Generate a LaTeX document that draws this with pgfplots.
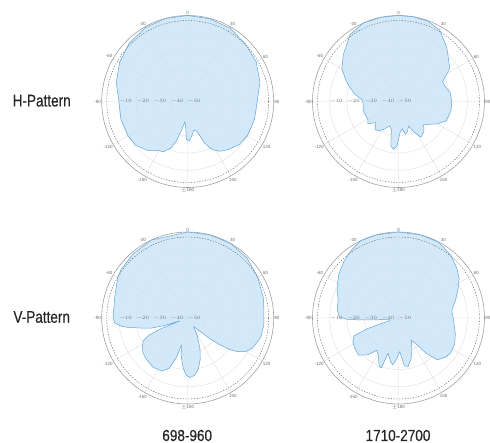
\documentclass[border=0pt]{standalone}
\usepackage{fontspec}
\setmainfont{Liberation Sans}
\newfontfamily\rowfont[FakeStretch=0.8,FakeBold=0.4]{Liberation Sans}
\newfontfamily\colfont[FakeStretch=0.85,FakeBold=0.4]{Liberation Sans}
\usepackage{pgfplots}
\usepackage{pgfplotstable}
\usepgfplotslibrary{polar}
\pgfplotsset{compat=1.18}
\definecolor{patfill}{RGB}{200,228,248}
\definecolor{patline}{RGB}{95,165,220}
\definecolor{labgray}{RGB}{110,110,110}

% compass angle (deg, clockwise from north), gain (dB)
\pgfplotstableread{
ang db
0 0
15 -0.2
30 -0.8
45 -2.6
60 -4
75 -6.5
90 -9.6
105 -9.8
120 -10
130 -11
140 -13.5
147 -15.5
153 -18.5
158 -24
163 -32
168 -33
173 -30
178 -27
182 -28
185 -36
188 -38
192 -33
196 -26
200 -21
206 -17.5
212 -16.5
220 -13
230 -10.5
240 -10
255 -9.8
270 -10
285 -7
300 -4.3
315 -2
330 -0.5
345 0
360 0
}\hlow
\pgfplotstableread{
ang db
0 0
10 0
20 -0.3
30 -2
42 -8
50 -12
57 -14.5
62 -19
66 -22
72 -21.5
80 -19.5
90 -19
100 -19
112 -20
120 -24
126 -27.5
133 -30
140 -27
148 -25.5
153 -30
158 -34.5
163 -32
168 -30.5
172 -34
177 -32
182 -24
186 -22
190 -24
194 -33
200 -35
207 -32
214 -29.5
220 -28.7
227 -32
234 -28
240 -29.4
250 -29
257 -28.9
265 -29.4
272 -29
280 -24
287 -20
292 -17
300 -12
310 -8
316 -6
324 -2
336 0
348 0
360 0
}\hhigh
\pgfplotstableread{
ang db
0 0
15 0
30 0
45 -1
60 -2.9
75 -4.5
83 -5.4
95 -5.5
105 -6.1
115 -8.5
120 -11
124 -15
127 -19.5
130 -26
133 -32.6
138 -40
145 -44
152 -38
158 -31
163 -25
168 -20
173 -16.5
178 -15.3
182 -17
186 -22
190 -28
193 -34
196 -26
200 -19
206 -15.7
215 -15
225 -16
232 -17
238 -19
243 -21
246 -25
248 -33
250 -45
252 -36
254.5 -28
258 -22
261 -15
263 -11
266 -7.5
270 -6.6
285 -6
300 -3
306 -2.1
320 -1
335 0
360 0
}\vlow
\pgfplotstableread{
ang db
0 0
15 0
28 -0.1
40 -2.5
49.5 -5.4
57 -8
63 -11
72 -15
82 -18.7
92 -18
105.5 -15.7
115 -14
124 -13.5
130 -14.5
137 -16.8
142 -24
146 -32
150 -35
157 -30
163 -25
169 -21.3
173 -22
178 -30.4
183 -26
187 -22.6
190 -24
196.5 -28.6
199 -19.2
202 -20
208 -25
214 -27.4
220 -22
227 -18.3
235 -19
242 -20
248 -22
251 -30
254 -45
262 -45
265 -38
267 -28
268.5 -20
271 -15.5
278 -14
286 -13.5
296 -10.3
306 -7
316 -4.3
325 -2
334 0
345 0
360 0
}\vhigh

\tikzset{rlab/.style={font=\fontsize{4.5}{5}\selectfont, text=labgray, anchor=west, inner sep=0.5pt}}
\pgfplotsset{
  pat/.style={
    anchor=center, scale only axis, width=172bp, height=172bp,
    ymin=0, ymax=50, xmin=0, xmax=360,
    xtick={0,30,...,330},
    xticklabels={90,60,30,0,-30,-60,-90,-120,-150,$\pm$180,150,120},
    ytick={10,20,30,40}, yticklabels={},
    grid=major,
    major grid style={draw=gray!28, line width=0.35pt},
    axis line style={draw=gray!75, line width=0.6pt},
    y axis line style={draw=none},
    tick style={draw=none},
    xticklabel style={font=\fontsize{4.5}{5}\selectfont, text=labgray, inner sep=0.6pt},
    clip=false,
  },
  patplot/.style={fill=patfill, fill opacity=0.8, draw=patline, line width=0.5pt, line join=round},
}
\newcommand{\ringdecor}{%
  \draw[gray!70!black, line width=0.4pt, dash pattern=on 1.3pt off 1.5pt] (axis cs:0,0) circle[radius=81bp];
  \node[rlab] at (axis cs:180,40) {$-10$};
  \node[rlab] at (axis cs:180,30) {$-20$};
  \node[rlab] at (axis cs:180,20) {$-30$};
  \node[rlab] at (axis cs:180,10) {$-40$};
  \node[rlab] at (axis cs:0,0) {$-50$};
}

\begin{document}
\begin{tikzpicture}
\useasboundingbox (0bp,0bp) rectangle (490bp,443bp);

\begin{polaraxis}[pat, at={(187.7bp,341.5bp)}]
\addplot[patplot] table[x expr=90-\thisrow{ang}, y expr=\thisrow{db}+50] {\hlow};
\ringdecor
\end{polaraxis}

\begin{polaraxis}[pat, at={(398.5bp,341.5bp)}]
\addplot[patplot] table[x expr=90-\thisrow{ang}, y expr=\thisrow{db}+50] {\hhigh};
\ringdecor
\end{polaraxis}

\begin{polaraxis}[pat, at={(187.7bp,125bp)}]
\addplot[patplot] table[x expr=90-\thisrow{ang}, y expr=\thisrow{db}+50] {\vlow};
\ringdecor
\end{polaraxis}

\begin{polaraxis}[pat, at={(398.5bp,125bp)}]
\addplot[patplot] table[x expr=90-\thisrow{ang}, y expr=\thisrow{db}+50] {\vhigh};
\ringdecor
\end{polaraxis}

\node[font=\rowfont\fontsize{17}{20}\selectfont, text=black!85] at (41.7bp,342.3bp) {H-Pattern};
\node[font=\rowfont\fontsize{17}{20}\selectfont, text=black!85] at (41.7bp,126bp) {V-Pattern};
\node[font=\colfont\fontsize{16}{19}\selectfont, text=black!85] at (187.2bp,7.5bp) {698-960};
\node[font=\colfont\fontsize{16}{19}\selectfont, text=black!85] at (398bp,7.5bp) {1710-2700};
\end{tikzpicture}
\end{document}
